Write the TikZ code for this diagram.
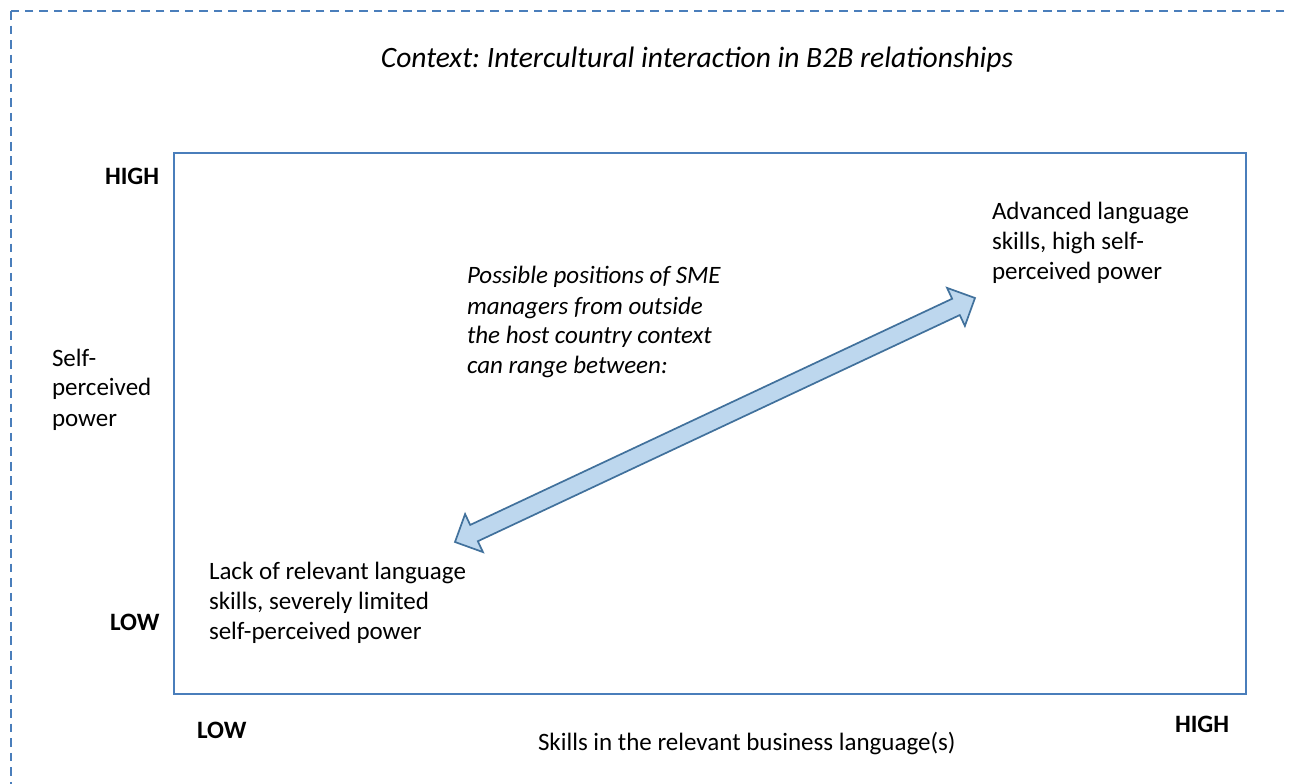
\documentclass[tikz,border=0pt]{standalone}
\usepackage{fontspec}
\setmainfont{Carlito}
\frenchspacing
\definecolor{frameblue}{RGB}{74,126,187}
\definecolor{arrowline}{RGB}{65,113,156}
\definecolor{arrowfill}{RGB}{189,215,238}
\begin{document}
\begin{tikzpicture}[x=0.44pt,y=-0.44pt,
  txt/.style={inner sep=0pt, outer sep=0pt, align=left, font=\fontsize{11}{13.2}\selectfont},
  itxt/.style={txt, font=\fontsize{11}{13.2}\selectfont\itshape},
  btxt/.style={txt, font=\fontsize{11}{13.2}\selectfont\bfseries},
  titletxt/.style={txt, font=\fontsize{13}{15.6}\selectfont\itshape},
  outerframe/.style={draw=frameblue, line width=0.9pt, dash pattern=on 3.8pt off 2.6pt},
  plotline/.style={draw=frameblue, line width=0.9pt},
  blockarrow/.style={draw=arrowline, fill=arrowfill, line width=0.75pt, line join=miter}]
\useasboundingbox (0,0) rectangle (1290,784);
\clip (0,0) rectangle (1290,784);
\fill[white] (0,0) rectangle (1290,784);
% dashed outer frame (runs past the right and bottom edges)
\coordinate (frameNW) at (11,11);
\coordinate (frameSE) at (1320,815);
\draw[outerframe] (frameNW) rectangle (frameSE);
% plot box
\coordinate (boxNW) at (174,153);
\coordinate (boxSE) at (1246,694);
\draw[plotline] (boxNW) rectangle (boxSE);
% double block arrow
\coordinate (tipL) at (455,542);
\coordinate (tipR) at (975,298);
\begin{scope}[shift={(tipL)}, rotate=25.14]
\draw[blockarrow] (0,0) -- (21,21) -- (21,9) -- (553.4,9) -- (553.4,21) -- (574.4,0)
  -- (553.4,-21) -- (553.4,-9) -- (21,-9) -- (21,-21) -- cycle;
\end{scope}
% texts
\node[titletxt, anchor=base] (title) at (697,68) {Context: Intercultural interaction in B2B relationships};
\node[btxt, anchor=base west] (yhigh) at (105,185) {HIGH};
\node[btxt, anchor=base west] (ylow) at (110,630) {LOW};
\node[btxt, anchor=base west] (xlow) at (197,738) {LOW};
\node[btxt, anchor=base west] (xhigh) at (1175,732) {HIGH};
\node[txt, anchor=north west] (ylabel) at (52,345) {\strut Self-\\perceived\\power};
\node[txt, anchor=north west] (adv) at (992,199) {\strut Advanced language\\skills, high self-\\perceived power};
\node[itxt, anchor=north west] (poss) at (467,263) {\strut Possible positions of SME\\managers from outside\\the host country context\\can range between:};
\node[txt, anchor=north west] (lack) at (209,558) {\strut Lack of relevant language\\skills, severely limited\\self-perceived power};
\node[txt, anchor=base west] (xlabel) at (538,750) {Skills in the relevant business language(s)};
\end{tikzpicture}
\end{document}
